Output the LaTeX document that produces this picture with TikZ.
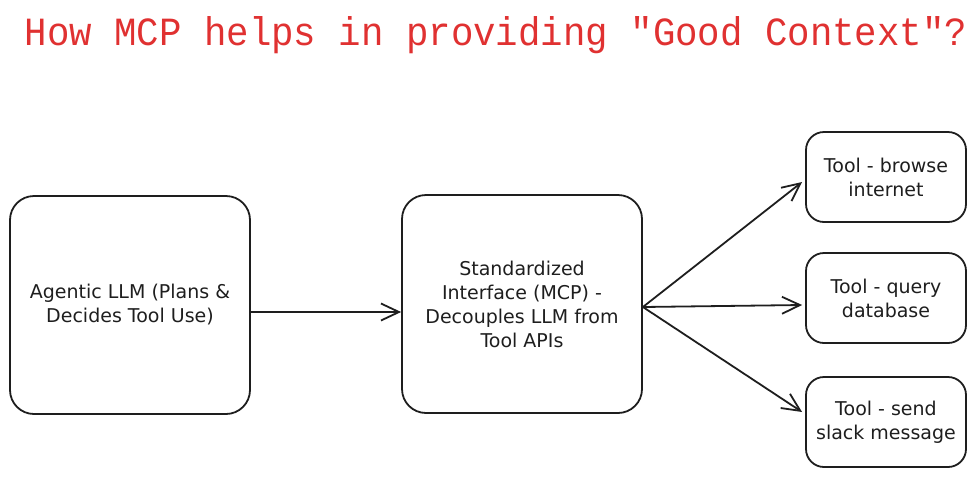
\documentclass[tikz,border=0pt]{standalone}
\usepackage{graphicx}
\usepackage{fontspec}
\setmainfont{DejaVu Sans}
\newfontfamily\titlefont{Liberation Mono}
\usetikzlibrary{arrows.meta}
\definecolor{exred}{HTML}{E03131}
\definecolor{exink}{HTML}{1E1E1E}
\begin{document}
\begin{tikzpicture}[x=1pt,y=-1pt,
  bigbox/.style={draw=exink,line width=1.8pt,rounded corners=24pt,minimum width=240pt,minimum height=218pt,inner sep=0pt,align=center,font=\fontsize{19}{24}\selectfont,text=exink},
  toolbox/.style={draw=exink,line width=1.8pt,rounded corners=18pt,minimum width=160pt,minimum height=90pt,inner sep=0pt,align=center,font=\fontsize{19}{24}\selectfont,text=exink},
  conn/.style={draw=exink,line width=1.8pt,-{Straight Barb[length=18pt,width=17pt,line width=1.8pt]}}
]
\useasboundingbox (0,0) rectangle (980,480);
\node[anchor=base,text=exred,inner sep=0pt,font=\titlefont\fontsize{40}{44}\selectfont] (title) at (496,45) {\scalebox{0.935}[1]{How MCP helps in providing "Good Context"?}};
\node[bigbox] (llm) at (130,305) {Agentic LLM (Plans \&\\Decides Tool Use)};
\node[bigbox] (mcp) at (522,304) {Standardized\\Interface (MCP) -\\Decouples LLM from\\Tool APIs};
\node[toolbox] (t1) at (886,177) {Tool - browse\\internet};
\node[toolbox] (t2) at (886,298) {Tool - query\\database};
\node[toolbox] (t3) at (886,422) {Tool - send\\slack message};
\draw[conn] ([yshift=-7pt]llm.east) -- ([yshift=-8pt]mcp.west);
\draw[conn] ([yshift=-3pt]mcp.east) -- ([xshift=-3pt,yshift=-5pt]t1.west);
\draw[conn] ([yshift=-3pt]mcp.east) -- ([xshift=-3pt,yshift=-7pt]t2.west);
\draw[conn] ([yshift=-3pt]mcp.east) -- ([xshift=-3pt,yshift=10pt]t3.west);
\end{tikzpicture}
\end{document}
